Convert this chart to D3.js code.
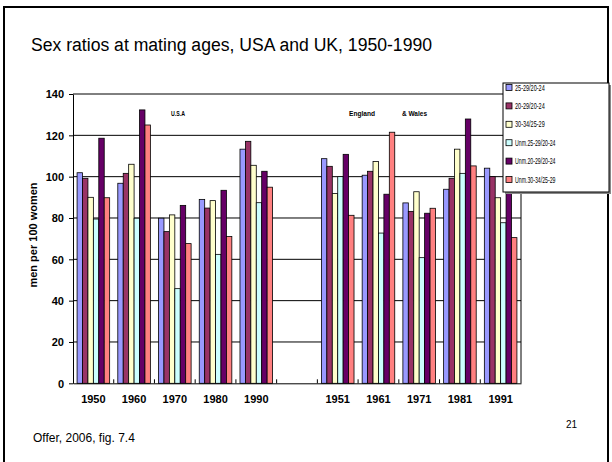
<!DOCTYPE html>
<html><head><meta charset="utf-8">
<script src="https://cdn.jsdelivr.net/npm/d3@7"></script>
<style>body{margin:0;background:#fff}svg{display:block;font-family:"Liberation Sans",Arial,sans-serif}</style>
</head><body><svg id="c" width="612" height="462"></svg>
<script>
const categories = ["1950","1960","1970","1980","1990","","1951","1961","1971","1981","1991"];
const seriesNames = ["25-29/20-24","20-29/20-24","30-34/25-29","Unm.25-29/20-24","Unm.20-29/20-24","Unm.30-34/25-29"];
const s1 = [101.9, 96.8, 79.9, 89.0, 113.3, null, 108.7, 100.7, 87.3, 93.9, 104.1];
const s2 = [99.2, 101.6, 73.4, 84.8, 117.1, null, 105.0, 102.6, 83.2, 99.2, 100.0];
const s3 = [90.0, 106.0, 81.5, 88.4, 105.5, null, 91.8, 107.3, 92.7, 113.3, 89.8];
const s4 = [79.5, 79.9, 45.8, 62.4, 87.4, null, 100.0, 72.7, 60.8, 101.6, 77.7];
const s5 = [118.6, 132.3, 86.1, 93.4, 102.6, null, 110.8, 91.5, 82.3, 127.9, 98.0];
const s6 = [89.8, 125.0, 67.6, 71.0, 94.9, null, 81.3, 121.5, 84.7, 105.2, 70.5];
const yTicks = [0,20,40,60,80,100,120,140];
const colors = ["#9999ff","#993366","#ffffcc","#ccffff","#660066","#ff8080"];
const title = "Sex ratios at mating ages, USA and UK, 1950-1990";
const yLabel = "men per 100 women";
const source = "Offer, 2006, fig. 7.4";
const pageNo = "21";

const allSeries = [s1,s2,s3,s4,s5,s6];
const svg = d3.select("#c");

// slide frame
svg.append("rect").attr("x",4).attr("y",7).attr("width",604).attr("height",470)
  .attr("fill","none").attr("stroke","#000").attr("stroke-width",2);

svg.append("text").attr("x",31).attr("y",51).attr("font-size",17.6).text(title);

const L = 73, R = 521, T = 94, B = 383.3;
const x0 = d3.scaleBand().domain(categories).range([L,R]).paddingInner(0).paddingOuter(0);
const x1 = d3.scaleBand().domain(d3.range(6)).range([0,x0.bandwidth()]).paddingInner(0).paddingOuter(0.75);
const y = d3.scaleLinear().domain([0,140]).range([B,T]);

// gridlines
svg.append("g").selectAll("line").data(yTicks.filter(d=>d>0)).join("line")
  .attr("x1",L).attr("x2",R).attr("y1",d=>y(d)).attr("y2",d=>y(d))
  .attr("stroke","#000").attr("stroke-width",1);

// bars
const barData = [];
allSeries.forEach((s,si)=>s.forEach((v,ci)=>{ if(v!=null) barData.push({si,ci,v}); }));
svg.append("g").selectAll("rect").data(barData).join("rect")
  .attr("x",d=>x0(categories[d.ci])+x1(d.si)).attr("width",x1.bandwidth())
  .attr("y",d=>y(d.v)).attr("height",d=>y(0)-y(d.v))
  .attr("fill",d=>colors[d.si]).attr("stroke","#000").attr("stroke-width",0.8);

// y axis
const ya = svg.append("g").attr("transform",`translate(${L},0)`)
  .call(d3.axisLeft(y).tickValues(yTicks).tickSize(4).tickSizeOuter(0));
ya.select(".domain").attr("stroke","#000");
ya.selectAll("text").attr("font-size",11).attr("font-weight","bold").attr("font-family","Liberation Sans, Arial, sans-serif").attr("fill","#000").attr("dx",-2).attr("dy","0.35em");

// x axis
const xa = svg.append("g").attr("transform",`translate(0,${B})`)
  .call(d3.axisBottom(x0).tickSize(0).tickSizeOuter(0));
xa.select(".domain").attr("stroke","#000");
xa.selectAll("text").attr("font-size",11).attr("font-weight","bold").attr("font-family","Liberation Sans, Arial, sans-serif").attr("fill","#000").attr("dy","1.5em");
// category boundary ticks (inside)
svg.append("g").selectAll("line").data(categories.slice(1)).join("line")
  .attr("x1",d=>x0(d)).attr("x2",d=>x0(d)).attr("y1",B).attr("y2",B-4)
  .attr("stroke","#000");
// right border
svg.append("line").attr("x1",R).attr("x2",R).attr("y1",T).attr("y2",B).attr("stroke","#000");

// y label
svg.append("text").attr("transform",`translate(37,235) rotate(-90)`).attr("text-anchor","middle")
  .attr("font-size",11).attr("font-weight","bold").text(yLabel);

// group labels
function cond(txt,xp,yp,w){
  svg.append("text").attr("x",xp).attr("y",yp).attr("font-size",8).attr("font-weight","bold")
    .attr("textLength",w).attr("lengthAdjust","spacingAndGlyphs").text(txt);
}
cond("U.S.A",171,116,14);
cond("England",349,116,26);
cond("& Wales",402,116,25);

// legend
const lg = svg.append("g");
lg.append("rect").attr("x",505).attr("y",85).attr("width",106).attr("height",109).attr("fill","#888");
lg.append("rect").attr("x",503).attr("y",83).attr("width",106).attr("height",109).attr("fill","#fff").attr("stroke","#000").attr("stroke-width",1);
seriesNames.forEach((n,i)=>{
  const yy = 87.5 + i*18.4;
  lg.append("rect").attr("x",506).attr("y",yy-3).attr("width",6).attr("height",6)
    .attr("fill",colors[i]).attr("stroke","#000").attr("stroke-width",0.8);
  lg.append("text").attr("x",515).attr("y",yy+3).attr("font-size",8.5)
    .attr("textLength",n.length*2.7).attr("lengthAdjust","spacingAndGlyphs").text(n);
});

svg.append("text").attr("x",33).attr("y",442).attr("font-size",12).text(source);
svg.append("text").attr("x",566).attr("y",428).attr("font-size",10).text(pageNo);
</script></body></html>
